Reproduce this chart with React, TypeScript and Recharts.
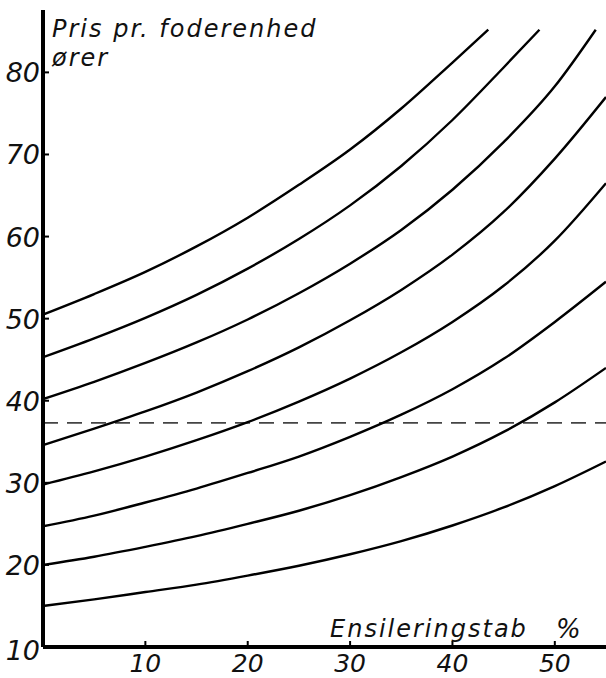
import React from "react";
import {
  LineChart,
  Line,
  XAxis,
  YAxis,
  ReferenceLine,
} from "recharts";

// ensileringstab i procent
const LOSS = [0, 5, 10, 15, 20, 25, 30, 35, 40, 45, 50, 55];

// pris pr. foderenhed (øre) for hver kurve, aflæst
const P15 = [15, 15.8, 16.7, 17.6, 18.7, 19.9, 21.3, 22.9, 24.8, 27, 29.6, 32.6];
const P20 = [20, 21, 22.2, 23.5, 25, 26.6, 28.5, 30.7, 33.2, 36.2, 39.8, 44];
const P25 = [24.7, 26, 27.6, 29.3, 31.2, 33.2, 35.6, 38.3, 41.4, 45.1, 49.6, 54.5];
const P30 = [29.8, 31.4, 33.2, 35.2, 37.4, 39.9, 42.7, 45.9, 49.6, 54, 59.5, 66.5];
const P35 = [34.6, 36.6, 38.7, 41, 43.6, 46.5, 49.8, 53.5, 57.8, 63, 69.5, 77];
const P40 = [40.2, 42.3, 44.6, 47.1, 49.9, 53.1, 56.7, 60.8, 65.7, 71.5, 78.3];
const P45 = [45.3, 47.6, 50.1, 52.9, 56.1, 59.7, 63.8, 68.6, 74.2, 80.6];
const P50 = [50.5, 53, 55.7, 58.8, 62.3, 66.3, 70.6, 75.6, 81.2];

// hvor kurverne forlader diagrammets top
const EXIT_LOSS = [null, null, null, null, null, 54, 48.5, 43.5];
const TOP_PRICE = 85.2;

const CURVES = [P15, P20, P25, P30, P35, P40, P45, P50];

const DASHED_PRICE = 37.3;

const X_TICKS = [10, 20, 30, 40, 50];
const Y_TICKS = [10, 20, 30, 40, 50, 60, 70, 80];

const FONT = "'DejaVu Sans', sans-serif";

const series = CURVES.map((values, i) => {
  const pts = values.map((p, j) => ({ x: LOSS[j], y: p }));
  const exit = EXIT_LOSS[i];
  if (exit != null) pts.push({ x: exit, y: TOP_PRICE });
  return pts;
});

const YTick = (props: any) => {
  const { x, y, payload } = props;
  return (
    <g>
      <line x1={x} x2={x + 6} y1={y} y2={y} stroke="#000" strokeWidth={2} />
      <text
        x={x - 3}
        y={y}
        dy={payload.value === 10 ? 13 : 10}
        textAnchor="end"
        fontSize={27}
        fontStyle="italic"
        fontFamily={FONT}
        fontWeight={300}
        fill="#111"
      >
        {payload.value}
      </text>
    </g>
  );
};

const XTick = (props: any) => {
  const { x, y, payload } = props;
  return (
    <g>
      <line x1={x} x2={x} y1={y} y2={y - 6} stroke="#000" strokeWidth={2} />
      <text
        x={x}
        y={y + 25}
        textAnchor="middle"
        fontSize={25}
        fontStyle="italic"
        fontFamily={FONT}
        fontWeight={300}
        fill="#111"
      >
        {payload.value}
      </text>
    </g>
  );
};

const textStyle: React.CSSProperties = {
  position: "absolute",
  fontFamily: FONT,
  fontStyle: "italic",
  fontWeight: 300,
  fontSize: 24,
  letterSpacing: 2,
  color: "#111",
  lineHeight: "29px",
  whiteSpace: "nowrap",
};

export default function App() {
  return (
    <div
      style={{
        position: "absolute",
        left: 0,
        top: 0,
        width: 606,
        height: 678,
        background: "#fff",
      }}
    >
      <LineChart
        width={606}
        height={678}
        margin={{ top: 10, right: 0, bottom: 0, left: 0 }}
      >
        <XAxis
          type="number"
          dataKey="x"
          domain={[0, 55]}
          ticks={X_TICKS}
          allowDataOverflow
          height={31}
          tickSize={0}
          tickMargin={0}
          axisLine={{ stroke: "#000", strokeWidth: 4 }}
          tickLine={false}
          tick={<XTick />}
        />
        <YAxis
          type="number"
          domain={[10, 87.6]}
          ticks={Y_TICKS}
          allowDataOverflow
          width={43}
          tickSize={0}
          tickMargin={0}
          axisLine={{ stroke: "#000", strokeWidth: 4 }}
          tickLine={false}
          tick={<YTick />}
        />
        <ReferenceLine
          y={DASHED_PRICE}
          stroke="#444"
          strokeWidth={1.6}
          strokeDasharray="15 9"
        />
        {series.map((pts, i) => (
          <Line
            key={i}
            data={pts}
            dataKey="y"
            type="monotone"
            stroke="#000"
            strokeWidth={2.4}
            dot={false}
            isAnimationActive={false}
          />
        ))}
      </LineChart>
      <div style={{ ...textStyle, left: 52, top: 15 }}>
        Pris pr. foderenhed
        <br />
        ører
      </div>
      <div style={{ ...textStyle, left: 330, top: 615 }}>Ensileringstab</div>
      <div style={{ ...textStyle, left: 556, top: 615, fontSize: 26 }}>%</div>
    </div>
  );
}
